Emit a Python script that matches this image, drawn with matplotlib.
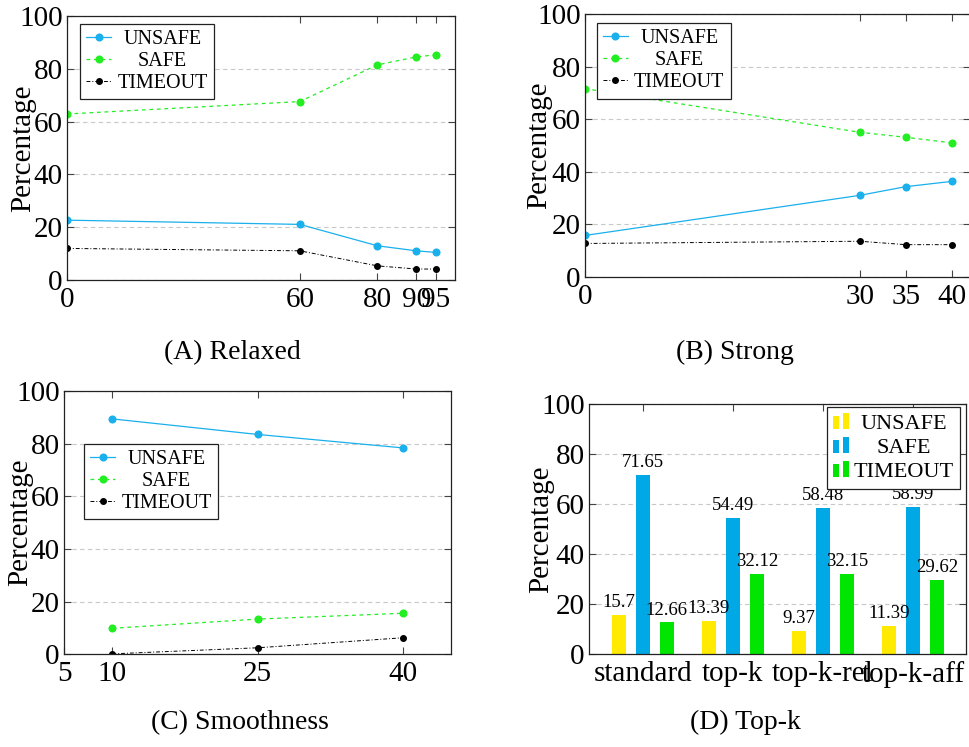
import matplotlib
matplotlib.use('Agg')
import matplotlib.pyplot as plt
import numpy as np
from matplotlib.patches import Rectangle
from matplotlib.legend_handler import HandlerBase

plt.rcParams['font.family'] = ['Liberation Serif', 'DejaVu Serif']

# (A) Relaxed
relaxed_x = [0, 60, 80, 90, 95]
relaxed_unsafe = [22.7, 21.1, 13.0, 11.1, 10.5]
relaxed_safe = [62.9, 67.6, 81.5, 84.5, 85.3]
relaxed_timeout = [12.0, 11.1, 5.4, 4.2, 4.2]

# (B) Strong
strong_x = [0, 30, 35, 40]
strong_unsafe = [15.7, 31.0, 34.3, 36.3]
strong_safe = [71.65, 55.0, 53.1, 51.0]
strong_timeout = [12.66, 13.5, 12.2, 12.2]

# (C) Smoothness
smooth_x = [10, 25, 40]
smooth_unsafe = [89.4, 83.5, 78.4]
smooth_safe = [9.9, 13.4, 15.6]
smooth_timeout = [0.2, 2.5, 6.3]

# (D) Top-k
topk_labels = ['standard', 'top-k', 'top-k-rel', 'top-k-aff']
topk_unsafe = [15.7, 13.39, 9.37, 11.39]
topk_safe = [71.65, 54.49, 58.48, 58.99]
topk_timeout = [12.66, 32.12, 32.15, 29.62]

C_UNSAFE = '#1ab0ec'
C_SAFE = '#22ee22'
C_TIME = 'black'
B_YEL = '#ffea00'
B_BLU = '#00a8e6'
B_GRN = '#00e600'

FS = 21
fig = plt.figure(figsize=(9.7, 7.47), dpi=100)


def style(ax, xticks, xlim):
    ax.set_ylim(0, 100)
    ax.set_xlim(*xlim)
    ax.set_yticks([0, 20, 40, 60, 80, 100])
    ax.set_xticks(xticks)
    ax.tick_params(direction='in', top=True, right=True, length=5, width=0.8,
                   labelsize=FS, color='#444444', pad=5)
    ax.tick_params(axis='y', pad=3)
    ax.yaxis.grid(True, color='#c8c8c8', linestyle=(0, (4, 3)), linewidth=0.8)
    ax.set_axisbelow(True)
    for s in ax.spines.values():
        s.set_linewidth(0.9)
        s.set_color('#222222')


def lines(ax, x, u, s, t):
    ax.plot(x, u, '-', color=C_UNSAFE, lw=0.9, marker='o', ms=4.8, label='UNSAFE')
    ax.plot(x, s, color=C_SAFE, lw=0.9, ls=(0, (3, 3)), marker='o', ms=4.8, label='SAFE')
    ax.plot(x, t, color=C_TIME, lw=0.7, ls=(0, (4, 2, 1, 2)), marker='o', ms=4.0, label='TIMEOUT')


def leg(ax, loc, anchor, fs=14.5, **kw):
    lg = ax.legend(loc=loc, bbox_to_anchor=anchor, borderaxespad=0, fontsize=fs,
                   fancybox=False, framealpha=1, edgecolor='#222222',
                   labelspacing=0.15, borderpad=0.3, **kw)
    lg.get_frame().set_linewidth(0.9)
    return lg


class TwoBars(HandlerBase):
    def create_artists(self, legend, orig_handle, xdescent, ydescent, width, height, fontsize, trans):
        c = orig_handle.patches[0].get_facecolor()
        w = width * 0.36
        h = height * 1.05
        r1 = Rectangle((-xdescent, -ydescent), w, h * 0.8, facecolor=c, edgecolor='none', transform=trans)
        r2 = Rectangle((-xdescent + width * 0.62, -ydescent), w, h, facecolor=c, edgecolor='none', transform=trans)
        return [r1, r2]


legends = []

# (A)
axA = fig.add_axes([0.0691, 0.625, 0.400, 0.3536])
lines(axA, relaxed_x, relaxed_unsafe, relaxed_safe, relaxed_timeout)
style(axA, relaxed_x, (0, 100))
legends.append(leg(axA, 'upper left', (0.0335, 0.97), handlelength=1.25, handletextpad=0.3))

# (B)
axB = fig.add_axes([0.603, 0.6296, 0.397, 0.3514])
lines(axB, strong_x, strong_unsafe, strong_safe, strong_timeout)
style(axB, strong_x, (0, 42))
legends.append(leg(axB, 'upper left', (0.031, 0.966), handlelength=1.25, handletextpad=0.3))

# (C)
axC = fig.add_axes([0.066, 0.124, 0.399, 0.3526])
lines(axC, smooth_x, smooth_unsafe, smooth_safe, smooth_timeout)
style(axC, [5] + smooth_x, (5, 45))
legends.append(leg(axC, 'upper left', (0.052, 0.80), handlelength=1.25, handletextpad=0.3))

# (D)
axD = fig.add_axes([0.607, 0.1245, 0.389, 0.3343])
xi = np.arange(len(topk_labels))
bw, off = 0.155, 0.267
bars = []
for vals, col, dx, lab in [(topk_unsafe, B_YEL, -off, 'UNSAFE'),
                           (topk_safe, B_BLU, 0, 'SAFE'),
                           (topk_timeout, B_GRN, off, 'TIMEOUT')]:
    b = axD.bar(xi + dx, vals, bw, color=col, label=lab, zorder=2)
    bars.append(b)
    for xx, v in zip(xi + dx, vals):
        axD.text(xx, v + 1.5, f'{v:g}', ha='center', va='bottom', fontsize=13.5, zorder=3)
style(axD, xi, (-0.6, 3.59))
axD.set_xticklabels(topk_labels)
legends.append(leg(axD, 'upper right', (0.984, 0.989), fs=16, handlelength=0.7,
                   handletextpad=0.2, handler_map={b: TwoBars() for b in bars}))

for ax, xc in [(axA, -0.113), (axB, -0.118), (axC, -0.112), (axD, -0.127)]:
    ax.set_ylabel('Percentage', fontsize=FS, va='center')
    ax.yaxis.set_label_coords(xc, 0.5)

fig.text(0.240, 0.519, '(A) Relaxed', ha='center', va='baseline', fontsize=20)
fig.text(0.758, 0.519, '(B) Strong', ha='center', va='baseline', fontsize=20)
fig.text(0.247, 0.0241, '(C) Smoothness', ha='center', va='baseline', fontsize=20)
fig.text(0.768, 0.0241, '(D) Top-k', ha='center', va='baseline', fontsize=20)

# center legend labels like pgfplots does
fig.canvas.draw()
r = fig.canvas.get_renderer()
for lg in legends:
    texts = lg.get_texts()
    ws = [t.get_window_extent(r).width for t in texts]
    mw = max(ws)
    for t, w in zip(texts, ws):
        t.set_position(((mw - w) / 2, 0))

fig.savefig('out.png', dpi=100)
